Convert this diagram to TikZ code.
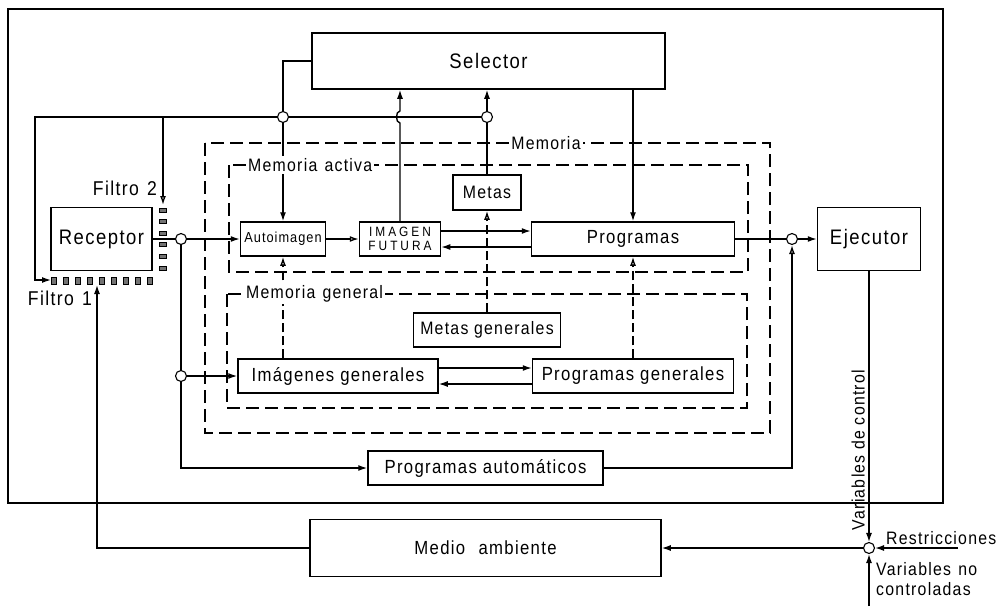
\documentclass[tikz,border=0pt]{standalone}
\usepackage{fontspec}
\setmainfont{Liberation Sans}[LetterSpace=7, FakeStretch=0.88]
\newfontfamily\wideCaps{Liberation Sans}[LetterSpace=22, FakeStretch=0.88]
\usetikzlibrary{arrows.meta, calc}

\tikzset{
  blk/.style={draw, line width=1.5pt, inner sep=0pt, align=center,
    font=\fontsize{19}{21}\selectfont},
  bigblk/.style={blk, font=\fontsize{21}{23}\selectfont},
  junc/.style={circle, draw, fill=white, line width=1.1pt, minimum size=11pt, inner sep=0pt},
  memo/.style={draw, line width=1.3pt, dash pattern=on 13pt off 6pt},
  memlbl/.style={fill=white, inner sep=2pt, font=\fontsize{18}{20}\selectfont},
  txt/.style={inner sep=1pt, font=\fontsize{18}{20}\selectfont},
  conn/.style={line width=1.35pt},
  fa/.style={conn, -{Latex[length=9pt,width=6pt]}},
  oa/.style={conn, -{Latex[open,length=9pt,width=6pt]}},
  dsh/.style={dash pattern=on 9pt off 4pt},
  filt/.style={draw, line width=0.8pt, fill=black!55}
}

\begin{document}
\begin{tikzpicture}[x=1pt, y=-1pt]
  \useasboundingbox (0,0) rectangle (1005,606);

  % outer frame and memory blocks
  \draw[line width=1.5pt] (8,9) rectangle (943,503);
  \draw[memo] (205,143) rectangle (770,433);
  \draw[memo] (229,165) rectangle (748,272);
  \draw[memo] (227,294) rectangle (747,408);

  % blocks
  \node[bigblk, minimum width=353pt, minimum height=56pt] (sel) at (488.5,61) {Selector};
  \node[bigblk, minimum width=101pt, minimum height=63pt] (rec) at (101.5,239) {Receptor};
  \node[blk, minimum width=85pt, minimum height=34pt, font=\fontsize{14.5}{16}\selectfont] (auto) at (283,239) {Autoimagen};
  \node[blk, minimum width=81pt, minimum height=34pt, font=\wideCaps\fontsize{13.5}{14}\selectfont] (fut) at (400,239) {IMAGEN\\FUTURA};
  \node[blk, minimum width=68pt, minimum height=35pt, font=\fontsize{18}{20}\selectfont] (metas) at (487,192.5) {Metas};
  \node[blk, minimum width=203pt, minimum height=34pt] (prog) at (633,239) {Programas};
  \node[bigblk, minimum width=103pt, minimum height=63pt] (ejec) at (869,239) {Ejecutor};
  \node[blk, minimum width=147pt, minimum height=34pt, font=\fontsize{18}{20}\selectfont] (mgen) at (487,330) {Metas generales};
  \node[blk, minimum width=200pt, minimum height=34pt] (igen) at (338,376) {Imágenes generales};
  \node[blk, minimum width=201pt, minimum height=34pt] (pgen) at (633,376) {Programas generales};
  \node[blk, minimum width=235pt, minimum height=34pt] (paut) at (485.5,468) {Programas automáticos};
  \node[blk, minimum width=351pt, minimum height=57pt] (medio) at (485.5,548) {Medio\hspace{0.7em}ambiente};

  % filters
  \foreach \i in {0,...,5}
    \draw[filt] (159.5,{208+\i*11.6}) rectangle ++(7,4);
  \foreach \i in {0,...,8}
    \draw[filt] ({51.5+\i*12},277) rectangle ++(5,7);

  % junctions
  \node[junc] (jn1) at (181,239) {};
  \node[junc] (jn2) at (181,376) {};
  \node[junc] (jn3) at (283,117) {};
  \node[junc] (jn4) at (487,117) {};
  \node[junc] (jn5) at (792,239) {};
  \node[junc] (jn6) at (869,548) {};

  % free ends
  \coordinate (tl) at (35,117);
  \coordinate (tf) at (163,117);
  \coordinate (f1l) at (51,280);
  \coordinate (f1b) at (97,285);
  \coordinate (f2) at (163,205);
  \coordinate (vr) at (958,548);
  \coordinate (vn) at (869,606);
  \coordinate (fu) at ($(fut.east)+(0,-8)$);
  \coordinate (pu) at ($(prog.west)+(0,8)$);
  \coordinate (iu) at ($(igen.east)+(0,-8)$);
  \coordinate (gu) at ($(pgen.west)+(0,8)$);

  % connectors
  \draw[conn] (rec.east) -- (jn1);
  \draw[fa] (jn1) -- (auto.west);
  \draw[conn] (jn1) -- (jn2);
  \draw[fa] (jn2) -- (igen.west);
  \draw[fa] (jn2) |- (paut.west);
  \draw[oa] (paut.east) -| (jn5);
  \draw[conn] (prog.east) -- (jn5);
  \draw[fa] (jn5) -- (ejec.west);
  \draw[fa] (ejec.south) -- (jn6);
  \draw[fa] (vr) -- (jn6);
  \draw[fa] (vn) -- (jn6);
  \draw[fa] (jn6) -- (medio.east);
  \draw[fa] (medio.west) -| (f1b);

  \draw[conn] (sel.west) -| (jn3);
  \draw[fa] (jn3) -- (auto.north);
  \draw[conn] (jn4) -- (jn3);
  \draw[fa] (jn3) -- (tl) |- (f1l);
  \draw[oa] (tf) -- (f2);
  \draw[fa] (jn4) -- (jn4 |- sel.south);
  \draw[conn] (metas.north) -- (jn4);
  \draw[fa] (fut.north) -- ($(fut |- jn4)+(0,6)$)
    to[out=180, in=180] ($(fut |- jn4)+(0,-6)$) -- (fut |- sel.south);
  \draw[fa] (sel.south -| prog) -- (prog.north);

  \draw[oa] (auto.east) -- (fut.west);
  \draw[fa] (fu) -- (fu -| prog.west);
  \draw[fa] (pu) -- (pu -| fut.east);
  \draw[fa] (iu) -- (iu -| pgen.west);
  \draw[fa] (gu) -- (gu -| igen.east);

  \draw[oa, dsh] (igen.north -| auto) -- (auto.south);
  \draw[oa, dsh] (mgen.north) -- (metas.south);
  \draw[oa, dsh] (pgen.north) -- (prog.south);

  % labels
  \node[memlbl] (lmem) at (546,143) {Memoria};
  \node[memlbl, anchor=west] (lact) at (246,165) {Memoria\hspace{0.4em}activa};
  \node[memlbl, anchor=west] (lgen) at (244,294) {Memoria\hspace{0.4em}general};
  \node[txt, anchor=east, font=\fontsize{20}{22}\selectfont] (lf2) at (158,188) {Filtro\hspace{0.4em}2};
  \node[txt, anchor=east, font=\fontsize{20}{22}\selectfont] (lf1) at (93,298) {Filtro\hspace{0.4em}1};
  \node[txt, rotate=90, anchor=south] (lvc) at (866,450) {Variables de control};
  \node[txt, anchor=south west] (lres) at (885,546) {Restricciones};
  \node[txt, anchor=north west, align=left] (lvn) at (875,561) {Variables\hspace{0.4em}no\\controladas};
\end{tikzpicture}
\end{document}
